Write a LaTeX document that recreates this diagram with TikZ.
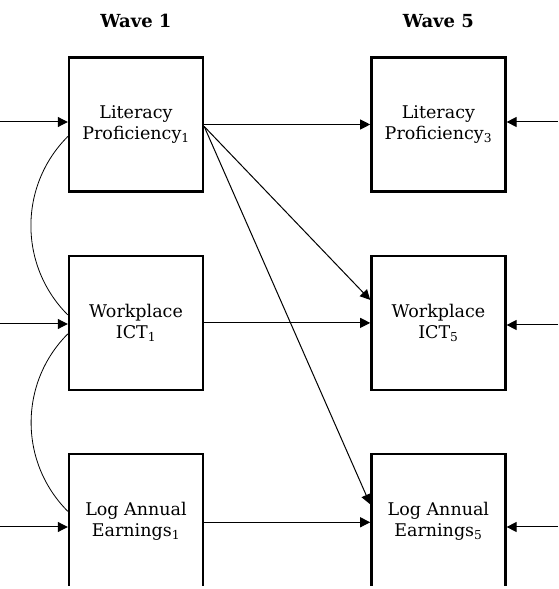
\documentclass[tikz,border=0pt]{standalone}
\usepackage{fontspec}
\setmainfont{DejaVu Serif}
\usetikzlibrary{positioning, arrows.meta}

\begin{document}
\begin{tikzpicture}[
    x=1pt, y=1pt,
    every node/.style={font=\fontsize{17.5}{21}\selectfont},
    var/.style={
        draw,
        rectangle,
        line width=2.4pt,
        minimum width=134pt,
        minimum height=134pt,
        align=center,
        inner sep=0pt,
    },
    wave/.style={
        font=\fontsize{18}{21}\selectfont\bfseries,
    },
    effect/.style={
        -{Triangle[length=10pt, width=10pt]},
        line width=1pt,
    },
    cov/.style={
        line width=0.8pt,
    },
]
\useasboundingbox (0,0) rectangle (558,589);
\clip (0,3) rectangle (558,589);

% wave 1
\node[var] (lit1) at (136,464.5) {Literacy\\Proficiency\textsubscript{1}};
\node[var, below=62pt of lit1] (ict1) {Workplace\\ICT\textsubscript{1}};
\node[var, below=62pt of ict1] (earn1) {Log Annual\\Earnings\textsubscript{1}};

% wave 5
\node[var, right=166pt of lit1] (lit5) {Literacy\\Proficiency\textsubscript{3}};
\node[var, right=166pt of ict1] (ict5) {Workplace\\ICT\textsubscript{5}};
\node[var, right=166pt of earn1] (earn5) {Log Annual\\Earnings\textsubscript{5}};

\node[wave] (w1) at ([yshift=35pt]lit1.north) {Wave 1};
\node[wave] (w5) at ([yshift=35pt]lit5.north) {Wave 5};

% residual inputs
\coordinate (inL1) at (0,467);
\coordinate (inL2) at (0,265);
\coordinate (inL3) at (0,62);
\coordinate (inR1) at (558,467);
\coordinate (inR2) at (558,264);
\coordinate (inR3) at (558,62);

\draw[effect] (inL1) -- (inL1 -| lit1.west);
\draw[effect] (inL2) -- (inL2 -| ict1.west);
\draw[effect] (inL3) -- (inL3 -| earn1.west);
\draw[effect] (inR1) -- (inR1 -| lit5.east);
\draw[effect] (inR2) -- (inR2 -| ict5.east);
\draw[effect] (inR3) -- (inR3 -| earn5.east);

% stability and cross-lagged paths
\draw[effect] (lit1.east) -- (lit5.west);
\draw[effect] (ict1.east) -- (ict5.west);
\draw[effect] ([yshift=-1pt]earn1.east) -- ([yshift=-1pt]earn5.west);
\draw[effect] ([yshift=-2pt]lit1.east) -- ([yshift=23pt]ict5.west);
\draw[effect] ([yshift=-2pt]lit1.east) -- ([yshift=17pt]earn5.west);

% covariances
\draw[cov] ([yshift=-12pt]lit1.west) to[out=225, in=135] ([yshift=8pt]ict1.west);
\draw[cov] ([yshift=-11pt]ict1.west) to[out=225, in=135] ([yshift=10pt]earn1.west);

\end{tikzpicture}
\end{document}
